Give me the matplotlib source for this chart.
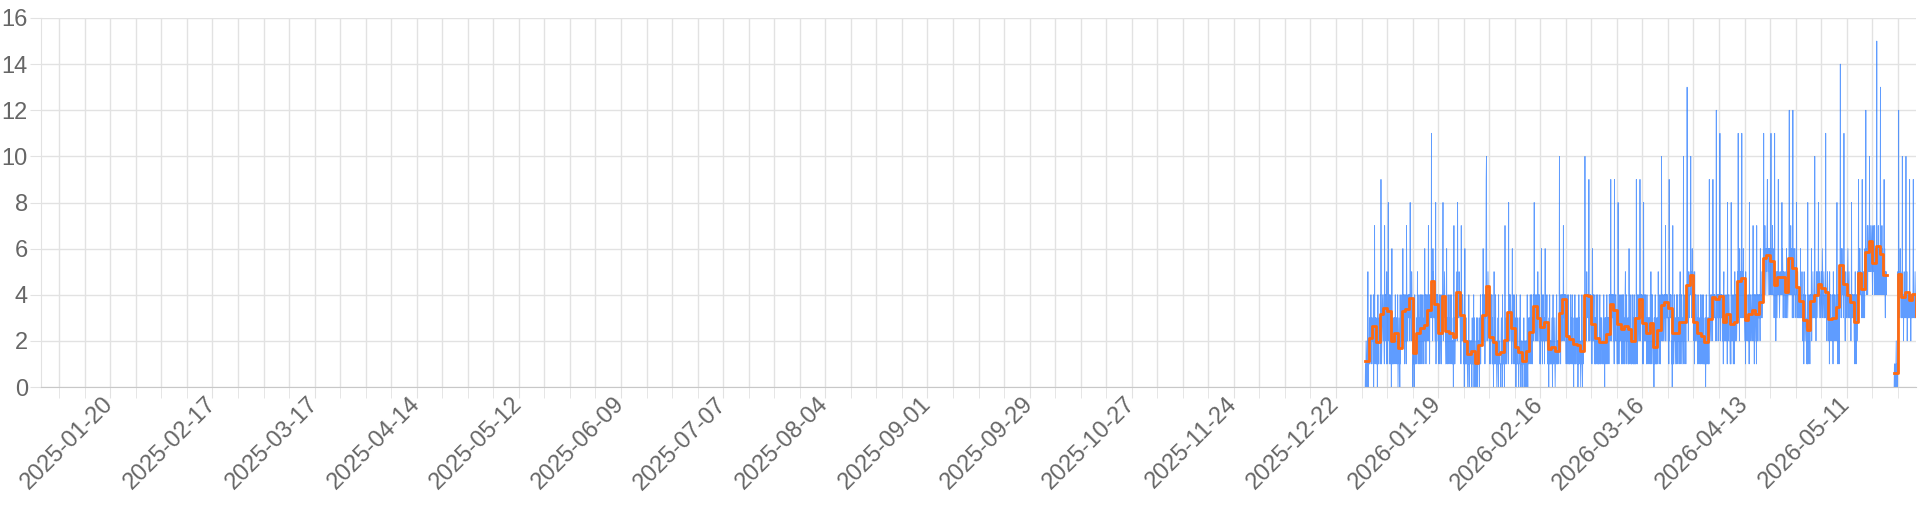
import numpy as np
import pandas as pd
import matplotlib
matplotlib.use("Agg")
import matplotlib.pyplot as plt

# 横轴范围
x_start = "2025-01-01"
x_end = "2026-05-30"

# 数据的第一天
first_day = "2025-12-30"

# 橙线: 每日均值 (None = 无数据)
daily_mean = [
    1.13, 2.12, 2.65, 1.94, 3.17, 3.43, 3.28, 2.0, 2.32, 1.71,
    3.3, 3.38, 3.87, 1.46, 2.36, 2.55, 2.68, 3.35, 4.58, 3.58,
    2.35, 3.94, 2.43, 2.36, 2.17, 4.13, 3.14, 2.0, 1.43, 1.58,
    1.06, 1.8, 3.14, 4.4, 2.17, 1.94, 1.44, 1.5, 2.04, 3.26,
    2.55, 1.75, 1.5, 1.14, 1.54, 2.38, 3.52, 2.99, 2.58, 2.8,
    1.64, 1.72, 1.58, 3.2, 3.81, 2.23, 2.07, 1.87, 1.83, 1.54,
    3.99, 3.93, 2.72, 2.12, 1.96, 1.96, 2.3, 3.58, 3.35, 2.72,
    2.52, 2.65, 2.52, 1.99, 2.99, 3.81, 2.77, 2.36, 2.77, 1.75,
    2.48, 3.54, 3.68, 3.42, 2.36, 2.36, 2.81, 2.84, 4.43, 4.86,
    2.8, 2.33, 2.23, 1.94, 2.94, 3.9, 3.81, 3.96, 2.8, 3.17,
    2.72, 2.84, 4.58, 4.72, 2.91, 3.17, 3.35, 3.17, 3.67, 5.61,
    5.74, 5.48, 4.42, 4.75, 4.75, 4.13, 5.61, 5.16, 4.33, 3.71,
    2.91, 2.48, 3.75, 3.99, 4.48, 4.29, 4.12, 2.94, 2.99, 3.46,
    5.29, 4.48, 3.97, 3.67, 2.84, 4.94, 4.25, 5.86, 6.33, 5.36,
    6.1, 5.75, 4.86, None, None, 0.62, 4.91, 3.9, 4.14, 3.78,
    4.04, 3.06,
]

# 蓝线: 每2小时计数, 每天12个字符 (16进制), '-' = 无数据
bucket_counts = [
    "010210120502", "213132241322", "231403271323", "121302412132",
    "324193123432", "342173424315", "231482341343", "120261213213",
    "231423132214", "012312041223", "342363424413", "423174322434",
    "434283432543", "101213041212", "231252312413", "324132413242",
    "213262431342", "342372431434", "43b354264533", "432481343434",
    "231324132421", "343482434543", "213261321423", "132423142312",
    "120271312423", "435284343544", "324173242432", "120261312312",
    "101214021212", "112031212403", "010120311301", "121302141322",
    "324263423413", "349a42435434", "231312422413", "120251312412",
    "101213041211", "110231204121", "120271213212", "323182423443",
    "231362413242", "121302412131", "101231402121", "010211301202",
    "110214102132", "231423142313", "342383423424", "324253423431",
    "213262413242", "231362423342", "121203141212", "112302412132",
    "101231412122", "213a32413242", "434274342434", "213241324121",
    "121342132412", "120312412132", "211302142312", "101214102132",
    "342a43242534", "434293424343", "231362423413", "213142312411",
    "121342131322", "212314120313", "231423132314", "342392423434",
    "324192423432", "213182413242", "324132413241", "231452314232",
    "213162413241", "121342131412", "213192413442", "343294243434",
    "213182423242", "231423132313", "324152413422", "120312412131",
    "213252413241", "324a32423423", "434272434343", "323192434343",
    "120271312423", "213241324132", "324152413423", "213a21324231",
    "343d43425434", "454a45346453", "324152423432", "231423132214",
    "213241324131", "121302412132", "213192423432", "434293434343",
    "323c32434342", "434b32434342", "231452324232", "324182423432",
    "213182423241", "324152423423", "454b43426453", "534b45346434",
    "324152434233", "324182423432", "342372431434", "324173242433",
    "434263434543", "546b56475645", "657965465646", "546b45647564",
    "434b43524543", "545945434554", "454846535454", "434543645434",
    "546c45647464", "535c45364564", "434845354343", "434363434542",
    "324153423432", "213181324231", "434362434543", "343a43424534",
    "454845345434", "454365434543", "343b43424543", "324152434233",
    "234153424323", "342483414341", "435e45364564", "434b45324543",
    "434564345343", "342483434343", "324152413423", "545946456454",
    "434943534543", "656c54657465", "675a66576567", "546755647465",
    "546f54657465", "546d54647465", "545946435454", "------------",
    "------------", "010100120101", "545c45436454", "343a43424543",
    "434a43524443", "343943424343", "434943434543",
]

y_ticks = [0, 2, 4, 6, 8, 10, 12, 14, 16]

# 刻度: 每4周一个标签, 每周一条网格线
major_ticks = pd.date_range("2025-01-20", x_end, freq="28D")
minor_ticks = pd.date_range("2025-01-06", x_end, freq="7D")

plt.rcParams["font.family"] = ["Liberation Sans", "DejaVu Sans"]

day0 = pd.Timestamp(first_day)

# 蓝线数据
blue_t, blue_v = [], []
for i, s in enumerate(bucket_counts):
    for k, c in enumerate(s):
        blue_t.append(day0 + pd.Timedelta(days=i, hours=2 * k))
        blue_v.append(np.nan if c == "-" else int(c, 16))

# 橙线数据
mean_t = day0 + pd.to_timedelta(np.arange(len(daily_mean)), unit="D")
mean_v = np.array(daily_mean, dtype=float)

fig = plt.figure(figsize=(19.2, 5.12), dpi=100)
ax = fig.add_axes([41 / 1920, 125 / 512, 1875 / 1920, 369 / 512])

ax.plot(blue_t, blue_v, color="#2a7bff", linewidth=0.6, alpha=0.75, zorder=2)
ax.plot(mean_t, mean_v, color="#ff6a10", linewidth=2.0, drawstyle="steps-post", zorder=3)

ax.set_xlim(pd.Timestamp(x_start), pd.Timestamp(x_end))
ax.set_ylim(0, 16)
ax.set_yticks(y_ticks)
ax.set_xticks(major_ticks)
ax.set_xticks(minor_ticks, minor=True)
ax.set_xticklabels([d.strftime("%Y-%m-%d") for d in major_ticks])

grid_color = "#e2e2e2"
ax.set_axisbelow(True)
ax.grid(which="both", axis="x", color=grid_color, linewidth=1)
ax.grid(which="major", axis="y", color=grid_color, linewidth=1)

for side in ["top", "right"]:
    ax.spines[side].set_visible(False)
ax.spines["left"].set_color(grid_color)
ax.spines["bottom"].set_color("#c8c8c8")

ax.tick_params(axis="both", which="both", length=8, color=grid_color,
               labelsize=17, labelcolor="#666666")
ax.tick_params(axis="x", pad=2)
ax.tick_params(axis="y", pad=1.5)
plt.setp(ax.get_xticklabels(), rotation=45, ha="right", va="center", rotation_mode="anchor")

fig.savefig("out.png", dpi=100)
